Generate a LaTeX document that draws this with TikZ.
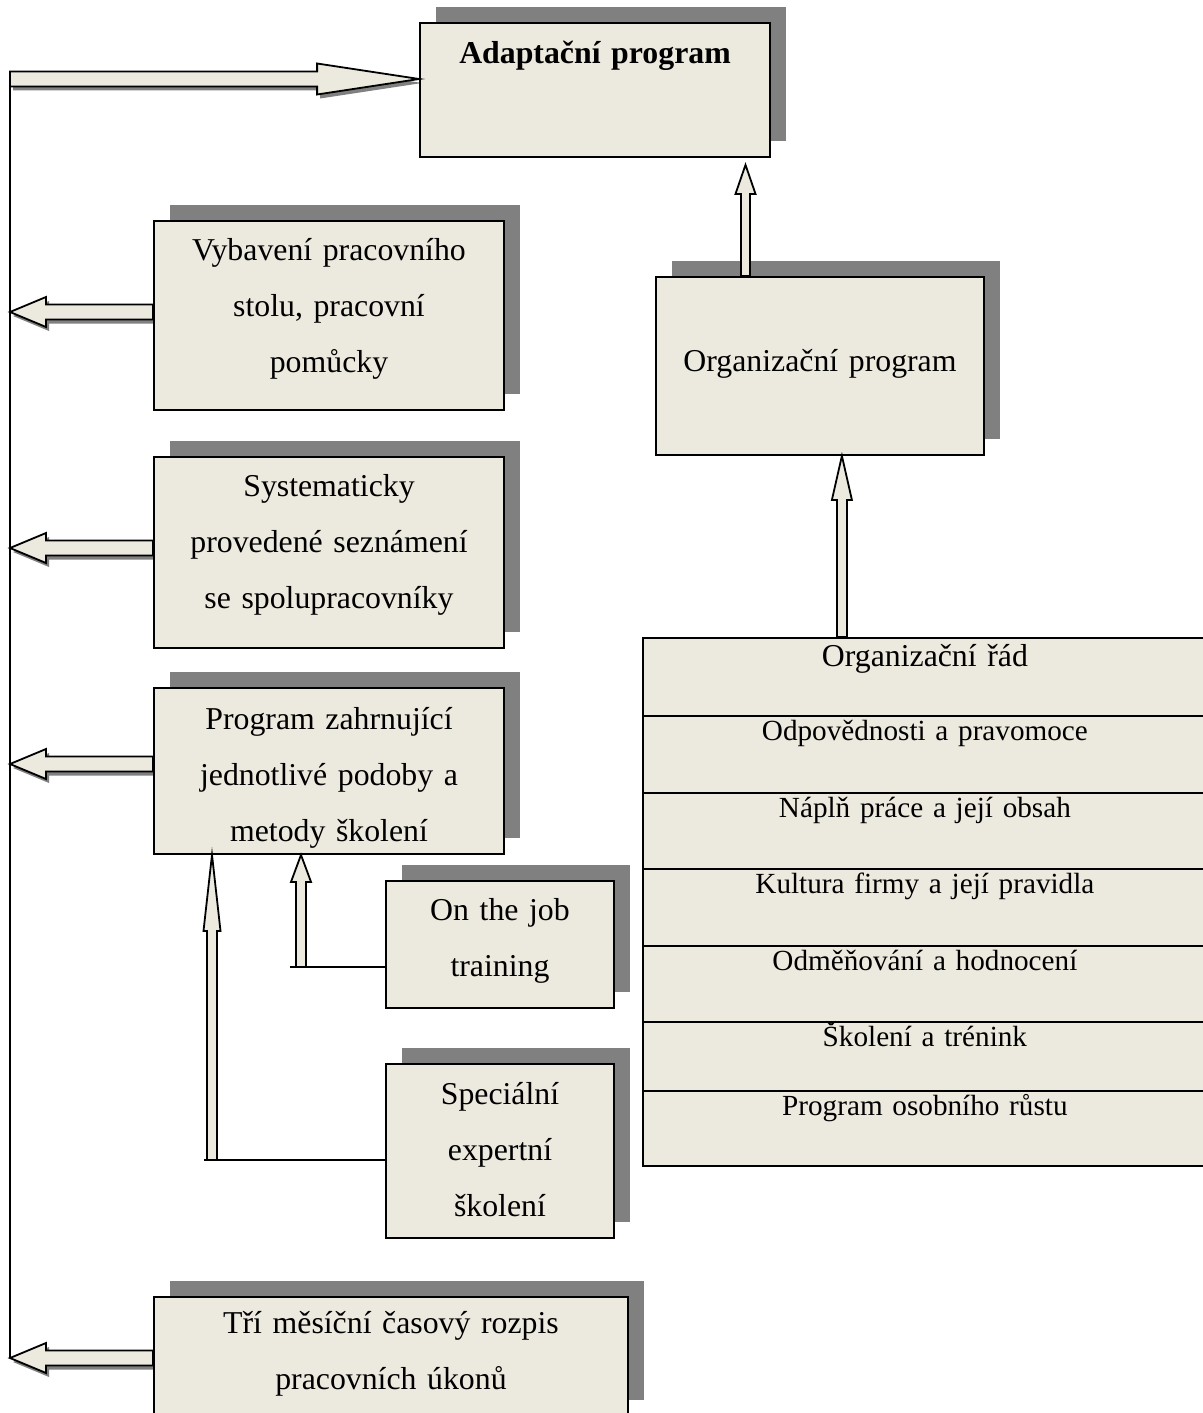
\documentclass[tikz,border=0pt]{standalone}
\usepackage{fontspec}
\setmainfont{Liberation Serif}
\usetikzlibrary{calc,shadows,backgrounds}

\definecolor{cream}{RGB}{236,233,222}
\definecolor{shadowgray}{RGB}{128,128,128}
\newcommand{\boxfont}{\fontsize{15.9pt}{28pt}\selectfont}
\newcommand{\rowfont}{\fontsize{14.6pt}{17pt}\selectfont}

% block arrow: [style]{start}{tip}{half shaft}{half head}{head length}
\newcommand{\blockarrow}[6][]{%
  \path (#2) coordinate (ba-s) (#3) coordinate (ba-t);
  \coordinate (ba-h) at ($(ba-t)!#6!(ba-s)$);
  \path[#1] ($(ba-s)!#4!90:(ba-t)$) -- ($(ba-h)!#4!-90:(ba-s)$)
    -- ($(ba-h)!#5!-90:(ba-s)$) -- (ba-t) -- ($(ba-h)!#5!90:(ba-s)$)
    -- ($(ba-h)!#4!90:(ba-s)$) -- ($(ba-s)!#4!-90:(ba-t)$) -- cycle;
}

\begin{document}
\begin{tikzpicture}[x=0.5pt, y=-0.5pt,
    box/.style={rectangle, draw, line width=0.9pt, fill=cream, inner sep=0pt, align=center, font=\boxfont,
      drop shadow={shadow xshift=8pt, shadow yshift=8pt, fill=shadowgray, opacity=1}},
    sz/.style n args={4}{minimum width=#1, text width=#1, minimum height=#2, text height=#3, text depth=#4},
    tabrow/.style={rectangle, draw, line width=0.9pt, fill=cream, inner sep=0pt, anchor=north west,
      align=center, minimum width=282pt, text width=282pt},
    barrow/.style={draw, line width=0.9pt, fill=cream},
    bshadow/.style={fill=shadowgray, transform canvas={xshift=1.5pt, yshift=-2pt}},
    conn/.style={draw, line width=0.9pt},
]
    \useasboundingbox (0,0) rectangle (1203,1413);

    % boxes
    \node[box, sz={175pt}{67pt}{20.5pt}{46.5pt}] (adapt) at (595,90) {\textbf{Adaptační program}};
    \node[box, sz={175pt}{94.5pt}{19.5pt}{75pt}] (vyb) at (329,315.5) {Vybavení pracovního\\stolu, pracovní\\pomůcky};
    \node[box, sz={164pt}{89pt}{47pt}{42pt}] (org) at (820,366) {Organizační program};
    \node[box, sz={175pt}{95.5pt}{19.5pt}{76pt}] (sys) at (329,552.5) {Systematicky\\provedené seznámení\\se spolupracovníky};
    \node[box, sz={175pt}{83pt}{20.5pt}{62.5pt}] (prog) at (329,771) {Program zahrnující\\jednotlivé podoby a\\metody školení};
    \node[box, sz={114pt}{63.5pt}{19.5pt}{44pt}] (job) at (500,944.5) {On the job\\training};
    \node[box, sz={114pt}{87pt}{20pt}{67pt}] (spec) at (500,1151) {Speciální\\expertní\\školení};
    \node[box, sz={237pt}{59.5pt}{18pt}{41.5pt}] (tri) at (391,1356.5) {Tří měsíční časový rozpis\\pracovních úkonů};

    % table of the organisation program
    \node[tabrow, minimum height=39pt, text height=14.5pt, text depth=24.5pt, font=\boxfont] (r1) at (642,637) {Organizační řád};
    \foreach \rtop/\rh/\rtxt [count=\i from 2] in {715/38.5/Odpovědnosti a pravomoce, 792/38/Náplň práce a její obsah,
        868/38.5/Kultura firmy a její pravidla, 945/38/Odměňování a hodnocení,
        1021/34.5/Školení a trénink, 1090/37.5/Program osobního růstu} {
        \pgfmathsetmacro\rdep{\rh-12.5}
        \node[tabrow, minimum height=\rh pt, text height=12.5pt, text depth=\rdep pt, font=\rowfont] (r\i) at (642,\rtop) {\rtxt};
    }

    % left side: spine and block arrows
    \coordinate (spine) at (10,0);
    \coordinate (atip) at ([yshift=5.5pt]adapt.west);
    \coordinate (vout) at ([yshift=1.75pt]vyb.west);
    \coordinate (sout) at ([yshift=2.25pt]sys.west);
    \coordinate (pout) at ([yshift=3.5pt]prog.west);
    \coordinate (tout) at ([yshift=-0.75pt]tri.west);

    \begin{pgfonlayer}{background}
        \blockarrow[bshadow]{spine |- atip}{atip}{3.75pt}{7.75pt}{51pt}
        \foreach \s in {vout,sout,pout,tout} {\blockarrow[bshadow]{\s}{spine |- \s}{3.75pt}{7.5pt}{18pt}}
    \end{pgfonlayer}

    \blockarrow[barrow]{spine |- atip}{atip}{3.75pt}{7.75pt}{51pt}
    \foreach \s in {vout,sout,pout,tout} {\blockarrow[barrow]{\s}{spine |- \s}{3.75pt}{7.5pt}{18pt}}
    \draw[conn] ($(spine |- atip)+(0,-7.5)$) -- (spine |- tout);

    % upward arrows
    \coordinate (oup) at ([xshift=-37.25pt]org.north);
    \blockarrow[barrow]{oup}{$(oup |- adapt.south)+(0,7)$}{2.25pt}{5pt}{14.5pt}
    \coordinate (rup) at ([xshift=-41.5pt]r1.north);
    \blockarrow[barrow]{rup}{rup |- org.south}{2.5pt}{5pt}{22pt}

    \coordinate (jin) at ([yshift=-11.25pt]job.west);
    \coordinate (jup) at ([xshift=-14pt]prog.south);
    \blockarrow[barrow]{jup |- jin}{jup}{2.5pt}{5pt}{13.5pt}
    \draw[conn] ($(jup |- jin)+(-11,0)$) -- (jin);

    \coordinate (sin) at ([yshift=-4.5pt]spec.west);
    \coordinate (spup) at ([xshift=-58.5pt]prog.south);
    \blockarrow[barrow]{spup |- sin}{spup}{2.5pt}{4.25pt}{38pt}
    \draw[conn] ($(spup |- sin)+(-8,0)$) -- (sin);
\end{tikzpicture}
\end{document}
